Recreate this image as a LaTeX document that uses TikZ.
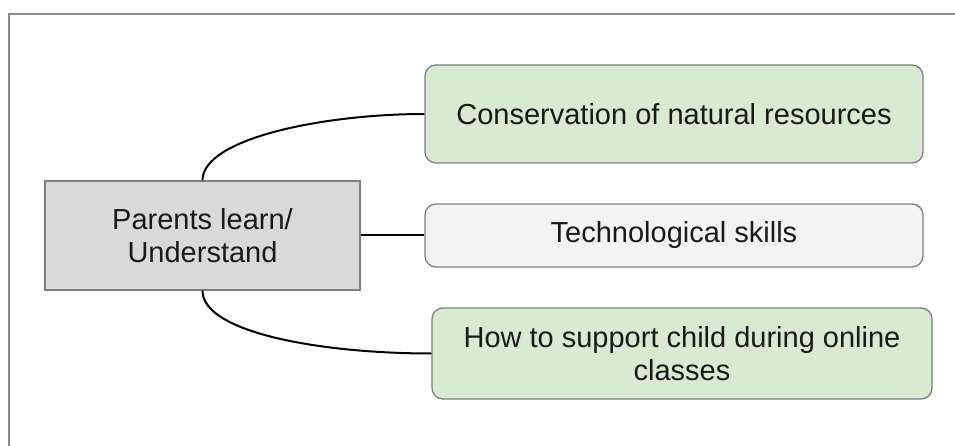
\documentclass[tikz,border=0pt]{standalone}
\usepackage{fontspec}
\setmainfont{Liberation Sans}
\definecolor{framegray}{HTML}{8C8C8C}
\definecolor{boxedge}{HTML}{7F7F7F}
\definecolor{rootfill}{HTML}{D9D9D9}
\definecolor{greenfill}{HTML}{D9EAD3}
\definecolor{lightfill}{HTML}{F3F3F3}
\definecolor{inkcol}{HTML}{1A1A1A}
\begin{document}
\begin{tikzpicture}[x=1pt,y=-1pt,
  every node/.style={font=\fontsize{29}{33}\selectfont, text=inkcol, align=center, inner sep=0pt},
  rootbox/.style={draw=boxedge, line width=1.3pt, fill=rootfill, minimum width=315pt, minimum height=109pt},
  leafbox/.style={draw=boxedge, line width=1.3pt, rounded corners=11pt, minimum width=498pt},
  link/.style={draw=black, line width=2pt}]
  \useasboundingbox (0,0) rectangle (955,446);
  % partial frame along the top and left edges
  \draw[framegray, line width=1.5pt] (9,446) -- (9,14) -- (955,14);

  \node[rootbox] (root) at (202.5,235.5) {Parents learn/\\Understand};
  \node[leafbox, fill=greenfill, minimum height=98pt] (cons) at (674,114) {Conservation of natural resources};
  \node[leafbox, fill=lightfill, minimum height=63pt] (tech) at (674,235.5) {Technological skills};
  \node[leafbox, fill=greenfill, minimum width=500pt, minimum height=91pt] (supp) at (682,353.5) {How to support child during online\\classes};

  \draw[link] (root.north) .. controls ++(0,-42) and ++(-100,0) .. (cons.west);
  \draw[link] (root.east) -- (tech.west);
  \draw[link] (root.south) .. controls ++(0,42) and ++(-110,0) .. (supp.west);
\end{tikzpicture}
\end{document}
